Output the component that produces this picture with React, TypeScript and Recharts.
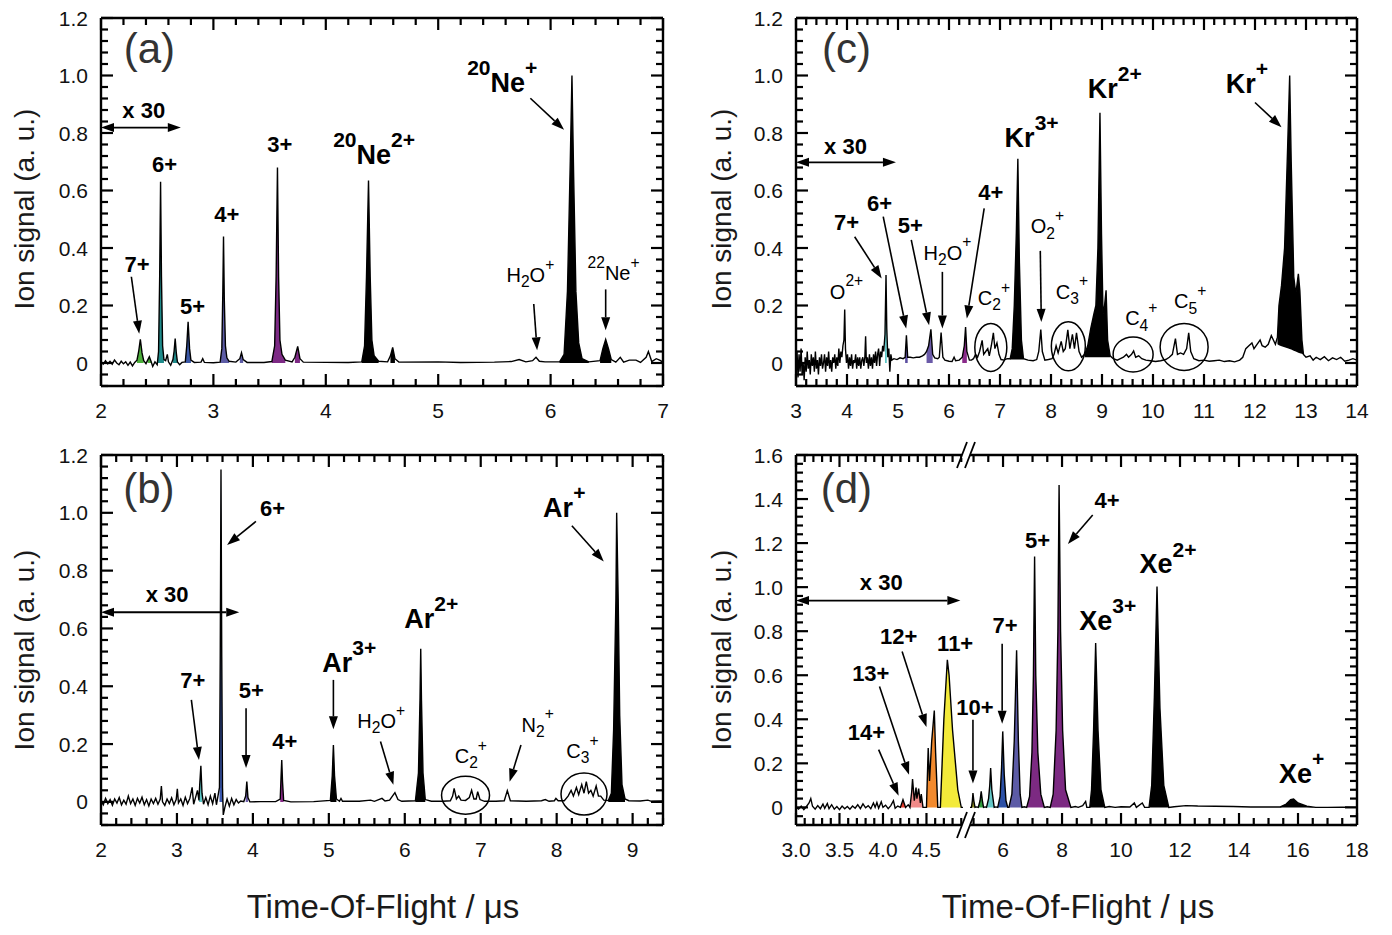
import React from 'react';
import { ComposedChart, Line, Area, XAxis, YAxis, ReferenceDot, ReferenceLine } from 'recharts';

const FONT = "'Liberation Sans', Arial, Helvetica, sans-serif";

// ---------- tick lists ----------
const rng = (a: number, b: number, s: number) => {
  const out: number[] = [];
  for (let v = a; v <= b + 1e-9; v += s) out.push(Math.round(v * 1000) / 1000);
  return out;
};
const aXMajor = [2, 3, 4, 5, 6, 7];
const aXTicks = rng(2, 7, 0.2);
const bXMajor = [2, 3, 4, 5, 6, 7, 8, 9];
const bXTicks = rng(2, 9.4, 0.2);
const cXMajor = [3, 4, 5, 6, 7, 8, 9, 10, 11, 12, 13, 14];
const cXTicks = rng(3, 14, 0.2);
const dLXMajor = [3.0, 3.5, 4.0, 4.5];
const dLXTicks = rng(3.0, 4.9, 0.1);
const dRXMajor = [6, 8, 10, 12, 14, 16, 18];
const dRXTicks = rng(5, 18, 0.5);
const yMajor12 = [0, 0.2, 0.4, 0.6, 0.8, 1.0, 1.2];
const yTicks12 = rng(-0.08, 1.2, 0.04);
const yMajor16 = [0, 0.2, 0.4, 0.6, 0.8, 1.0, 1.2, 1.4, 1.6];
const yTicks16 = rng(-0.08, 1.6, 0.04);

// ---------- spectra: [tof, signal, (optional lower fill edge)] ----------
const aTrace: number[][] = [
  [2.0,0.005],[2.02,-0.004],[2.04,0.008],[2.06,-0.003],[2.08,0.006],[2.1,-0.004],[2.12,0.01],[2.14,0.0],[2.16,-0.006],[2.18,0.006],[2.2,-0.003],[2.22,0.004],[2.24,-0.008],[2.26,0.003],[2.28,-0.01],[2.3,0.002],[2.32,0.01],[2.335,0.04],[2.35,0.082],[2.365,0.035],[2.38,0.008],[2.4,-0.002],[2.415,0.01],[2.43,0.022],[2.445,0.006],[2.46,-0.012],[2.48,0.004],[2.5,-0.006],[2.512,0.04],[2.522,0.3],[2.53,0.63],[2.538,0.3],[2.548,0.06],[2.56,0.012],[2.575,0.008],[2.59,0.03],[2.6,0.004],[2.62,-0.008],[2.64,0.012],[2.65,0.04],[2.66,0.085],[2.67,0.035],[2.68,0.004],[2.7,-0.006],[2.72,0.002],[2.75,0.004],[2.763,0.06],[2.775,0.143],[2.788,0.05],[2.8,0.01],[2.83,0.002],[2.89,0.003],[2.905,0.015],[2.92,0.002],[3.0,0.001],[3.06,0.003],[3.075,0.05],[3.084,0.25],[3.09,0.44],[3.097,0.22],[3.107,0.06],[3.12,0.018],[3.14,0.006],[3.2,0.003],[3.235,0.015],[3.25,0.036],[3.265,0.012],[3.3,0.002],[3.45,0.002],[3.52,0.005],[3.545,0.06],[3.558,0.3],[3.57,0.68],[3.58,0.3],[3.592,0.08],[3.61,0.03],[3.64,0.01],[3.7,0.004],[3.725,0.02],[3.75,0.058],[3.77,0.015],[3.8,0.003],[4.0,0.002],[4.2,0.002],[4.32,0.004],[4.345,0.06],[4.362,0.3],[4.38,0.635],[4.395,0.3],[4.41,0.08],[4.43,0.025],[4.47,0.006],[4.55,0.004],[4.575,0.025],[4.595,0.054],[4.615,0.015],[4.65,0.003],[5.0,0.004],[5.2,0.002],[5.5,0.003],[5.65,0.005],[5.72,0.012],[5.78,0.004],[5.84,0.008],[5.87,0.02],[5.9,0.006],[5.95,0.004],[6.08,0.004],[6.12,0.03],[6.15,0.25],[6.175,0.7],[6.19,1.0],[6.205,0.65],[6.225,0.25],[6.25,0.07],[6.28,0.015],[6.34,0.004],[6.44,0.008],[6.465,0.05],[6.49,0.082],[6.515,0.05],[6.54,0.012],[6.58,0.003],[6.62,0.02],[6.65,0.003],[6.7,0.01],[6.76,0.01],[6.8,0.002],[6.85,0.02],[6.87,0.04],[6.9,0.005],[6.94,0.015],[6.97,0.01],[7.0,0.003],
];
const aFills: any[] = [
  [2.32,2.38,'#4cae3c'],[2.415,2.445,'#4cae3c'],[2.5,2.56,'#1f8b8b'],[2.64,2.68,'#1f8b8b'],[2.75,2.8,'#3b58a6'],
  [3.06,3.14,'#5d5ca6'],[3.23,3.27,'#5d5ca6'],[3.52,3.64,'#7d2a85'],[3.725,3.77,'#7d2a85'],
  [4.32,4.47,'#000'],[4.575,4.615,'#000'],[6.08,6.34,'#000'],[6.44,6.54,'#000'],
];

const bTrace: number[][] = [
  [2.0,0.004],[2.03,-0.01],[2.06,0.012],[2.09,-0.006],[2.12,0.008],[2.15,-0.012],[2.18,0.01],[2.21,-0.004],[2.24,0.015],[2.27,-0.01],[2.3,0.006],[2.33,-0.008],[2.36,0.02],[2.39,-0.006],[2.42,0.01],[2.45,-0.012],[2.48,0.012],[2.51,-0.004],[2.54,0.016],[2.57,-0.01],[2.6,0.008],[2.63,-0.014],[2.66,0.01],[2.69,-0.006],[2.72,0.012],[2.75,-0.008],[2.78,0.01],[2.795,0.055],[2.81,0.0],[2.84,-0.012],[2.87,0.01],[2.9,-0.006],[2.93,0.014],[2.96,-0.01],[2.99,0.008],[3.005,0.045],[3.02,-0.004],[3.05,0.01],[3.08,-0.012],[3.11,0.016],[3.14,-0.006],[3.17,0.012],[3.2,0.05],[3.22,-0.008],[3.25,0.02],[3.27,0.04],[3.29,0.005],[3.3,0.06],[3.315,0.125],[3.33,0.03],[3.35,-0.008],[3.38,0.015],[3.41,-0.01],[3.44,0.02],[3.47,-0.006],[3.5,0.03],[3.52,-0.01],[3.54,0.02],[3.56,0.05],[3.57,0.5],[3.58,1.15],[3.59,0.5],[3.6,0.05],[3.61,-0.045],[3.63,-0.02],[3.66,0.01],[3.69,-0.015],[3.72,0.012],[3.75,-0.01],[3.78,0.008],[3.81,-0.004],[3.84,0.003],[3.88,0.001],[3.905,0.02],[3.92,0.07],[3.935,0.015],[3.96,0.0],[4.1,0.001],[4.3,0.001],[4.36,0.01],[4.37,0.08],[4.38,0.145],[4.39,0.07],[4.405,0.005],[4.5,0.0],[4.8,0.001],[5.02,0.005],[5.045,0.09],[5.06,0.197],[5.075,0.09],[5.1,0.01],[5.14,0.002],[5.16,0.012],[5.18,0.002],[5.4,0.002],[5.55,0.006],[5.6,0.002],[5.7,0.012],[5.74,0.003],[5.8,0.006],[5.87,0.032],[5.91,0.008],[5.96,0.002],[6.14,0.004],[6.18,0.1],[6.2,0.35],[6.21,0.53],[6.22,0.35],[6.24,0.1],[6.27,0.008],[6.35,0.002],[6.5,0.002],[6.6,0.004],[6.63,0.02],[6.65,0.047],[6.68,0.01],[6.71,0.02],[6.74,0.006],[6.8,0.005],[6.85,0.015],[6.88,0.04],[6.91,0.01],[6.94,0.01],[6.96,0.035],[6.99,0.008],[7.05,0.002],[7.2,0.002],[7.31,0.004],[7.35,0.039],[7.39,0.004],[7.6,0.002],[7.8,0.004],[7.85,0.008],[7.9,0.002],[7.97,0.004],[7.99,0.012],[8.02,0.004],[8.1,0.004],[8.15,0.02],[8.19,0.04],[8.22,0.02],[8.26,0.05],[8.29,0.025],[8.33,0.06],[8.36,0.03],[8.39,0.07],[8.42,0.03],[8.45,0.04],[8.48,0.02],[8.52,0.055],[8.55,0.02],[8.58,0.02],[8.62,0.006],[8.68,0.005],[8.72,0.03],[8.75,0.25],[8.78,0.7],[8.79,1.0],[8.81,0.7],[8.83,0.3],[8.86,0.06],[8.9,0.01],[8.95,0.004],[9.1,0.003],[9.2,0.006],[9.25,0.002],[9.4,0.003],
];
const bFills: any[] = [
  [3.29,3.33,'#5cc6c6'],[3.56,3.61,'#3a58b0'],[3.905,3.935,'#6a5aa8'],[4.36,4.405,'#8a2a8a'],
  [5.02,5.1,'#000'],[6.14,6.27,'#000'],[8.68,8.9,'#000'],
];

const cTrace: number[][] = [
  [3.0,-0.02],[3.02,0.04],[3.04,-0.05],[3.06,0.03],[3.08,-0.03],[3.1,0.05],[3.12,-0.04],[3.14,0.0],[3.16,-0.06],[3.18,0.02],[3.2,-0.03],[3.22,0.04],[3.24,-0.02],[3.26,0.01],[3.28,-0.04],[3.3,0.03],[3.32,-0.01],[3.34,0.02],[3.36,-0.03],[3.38,0.04],[3.4,-0.02],[3.42,0.01],[3.44,-0.04],[3.46,0.02],[3.48,-0.01],[3.5,0.03],[3.52,-0.02],[3.54,0.0],[3.56,0.03],[3.58,-0.03],[3.6,0.02],[3.62,-0.01],[3.64,0.04],[3.66,-0.02],[3.68,0.01],[3.7,-0.03],[3.72,0.02],[3.74,0.0],[3.76,0.03],[3.78,-0.02],[3.8,0.02],[3.82,-0.01],[3.84,0.05],[3.86,0.0],[3.88,0.04],[3.9,0.02],[3.92,0.06],[3.94,0.08],[3.955,0.186],[3.97,0.05],[3.99,0.0],[4.01,0.03],[4.03,-0.02],[4.05,0.02],[4.07,-0.01],[4.09,0.03],[4.11,-0.02],[4.13,0.01],[4.15,0.0],[4.17,0.03],[4.19,-0.02],[4.21,0.02],[4.23,-0.01],[4.25,0.02],[4.27,-0.02],[4.29,0.01],[4.31,0.02],[4.33,-0.01],[4.35,0.02],[4.365,0.093],[4.38,0.0],[4.4,0.02],[4.42,-0.02],[4.44,0.03],[4.46,-0.01],[4.48,0.02],[4.5,-0.02],[4.52,0.03],[4.54,0.0],[4.56,0.04],[4.58,-0.01],[4.6,0.03],[4.62,0.05],[4.64,-0.01],[4.66,0.04],[4.68,0.02],[4.7,0.06],[4.72,0.04],[4.745,0.1],[4.765,0.306],[4.78,0.12],[4.8,0.02],[4.82,0.05],[4.84,-0.03],[4.86,0.03],[4.88,0.01],[4.92,0.015],[4.98,0.012],[5.04,0.018],[5.1,0.015],[5.14,0.02],[5.165,0.096],[5.19,0.02],[5.24,0.02],[5.3,0.018],[5.36,0.02],[5.42,0.02],[5.48,0.025],[5.52,0.03],[5.56,0.04],[5.6,0.06],[5.645,0.117],[5.68,0.03],[5.72,0.018],[5.78,0.015],[5.81,0.02],[5.845,0.106],[5.88,0.02],[5.92,0.01],[6.0,0.006],[6.06,0.005],[6.1,0.02],[6.13,0.008],[6.2,0.01],[6.26,0.02],[6.3,0.06],[6.325,0.125],[6.35,0.04],[6.4,0.01],[6.44,0.01],[6.48,0.015],[6.52,0.03],[6.56,0.02],[6.6,0.04],[6.65,0.079],[6.68,0.03],[6.72,0.04],[6.76,0.05],[6.79,0.025],[6.83,0.06],[6.87,0.105],[6.9,0.05],[6.94,0.07],[6.98,0.03],[7.02,0.012],[7.08,0.01],[7.14,0.015],[7.2,0.015],[7.24,0.05],[7.28,0.2],[7.32,0.45],[7.35,0.71],[7.38,0.35],[7.42,0.08],[7.46,0.015],[7.55,0.01],[7.65,0.008],[7.72,0.012],[7.76,0.04],[7.8,0.116],[7.83,0.04],[7.88,0.01],[7.95,0.012],[8.02,0.015],[8.06,0.03],[8.1,0.06],[8.14,0.035],[8.2,0.075],[8.24,0.04],[8.28,0.05],[8.33,0.115],[8.37,0.05],[8.42,0.1],[8.46,0.05],[8.5,0.105],[8.55,0.04],[8.6,0.02],[8.66,0.03],[8.72,0.06],[8.78,0.12],[8.84,0.17],[8.88,0.2],[8.92,0.4],[8.96,0.87],[8.99,0.45],[9.02,0.17],[9.05,0.2],[9.08,0.253],[9.11,0.08],[9.16,0.025],[9.22,0.015],[9.3,0.01],[9.36,0.015],[9.42,0.02],[9.48,0.03],[9.52,0.02],[9.58,0.03],[9.62,0.042],[9.66,0.02],[9.72,0.025],[9.78,0.015],[9.86,0.01],[9.95,0.008],[10.05,0.005],[10.15,0.008],[10.25,0.012],[10.32,0.02],[10.38,0.03],[10.44,0.085],[10.48,0.03],[10.54,0.035],[10.6,0.03],[10.66,0.05],[10.7,0.105],[10.74,0.04],[10.8,0.015],[10.9,0.008],[11.0,0.01],[11.1,0.006],[11.2,0.008],[11.3,0.01],[11.4,0.005],[11.5,0.008],[11.6,0.004],[11.7,0.01],[11.76,0.02],[11.82,0.05],[11.88,0.06],[11.94,0.07],[11.98,0.05],[12.04,0.065],[12.1,0.08],[12.14,0.06],[12.2,0.055],[12.26,0.065],[12.32,0.095],[12.36,0.08],[12.4,0.065],[12.44,0.09,0.065],[12.47,0.2,0.062],[12.52,0.27,0.058],[12.58,0.4,0.055],[12.64,0.75,0.051],[12.68,1.0,0.049],[12.71,0.7,0.047],[12.76,0.3,0.043],[12.8,0.24,0.04],[12.85,0.31,0.036],[12.88,0.25,0.034],[12.92,0.08,0.032],[12.95,0.03,0.03],[13.0,0.02],[13.08,0.025],[13.14,0.01],[13.2,0.02],[13.28,0.012],[13.36,0.022],[13.44,0.008],[13.52,0.018],[13.6,0.012],[13.68,0.02],[13.76,0.006],[13.84,0.01],[13.92,0.015],[14.0,0.01],
];
const cFills: any[] = [
  [4.745,4.78,'#5ec8c8'],[5.14,5.19,'#5b4ea0'],[5.56,5.68,'#6a5aa8'],[6.26,6.35,'#8a2a8a'],
  [7.2,7.46,'#000',0.012],[8.66,9.16,'#000',0.02],[12.44,12.95,'#000'],
];

const dLTrace: number[][] = [
  [3.0,0.0],[3.03,-0.008],[3.06,0.006],[3.09,-0.01],[3.12,0.004],[3.15,0.02],[3.17,0.04],[3.19,0.005],[3.22,-0.008],[3.25,0.008],[3.28,-0.006],[3.31,0.015],[3.33,-0.004],[3.36,0.018],[3.38,-0.006],[3.41,0.012],[3.44,-0.008],[3.47,0.004],[3.5,-0.01],[3.53,0.006],[3.56,-0.006],[3.59,0.004],[3.62,-0.008],[3.65,0.006],[3.68,-0.004],[3.71,0.012],[3.74,-0.006],[3.77,0.016],[3.8,-0.002],[3.83,0.008],[3.86,-0.006],[3.89,0.02],[3.91,0.0],[3.93,0.022],[3.95,-0.004],[3.98,0.025],[4.0,0.0],[4.03,0.01],[4.06,-0.006],[4.09,0.008],[4.12,0.03],[4.14,-0.004],[4.17,0.006],[4.2,0.0],[4.23,0.035],[4.26,0.0],[4.29,0.012],[4.31,0.0],[4.33,0.07],[4.34,0.129],[4.36,0.03],[4.38,0.09],[4.39,0.04],[4.41,0.085],[4.43,0.02],[4.44,0.06],[4.46,0.0],[4.5,0.0],[4.52,0.27],[4.535,0.12],[4.56,0.3],[4.59,0.44],[4.605,0.25],[4.63,0.0],[4.66,0.0],[4.7,0.4],[4.74,0.67],[4.76,0.6],[4.8,0.35],[4.86,0.08],[4.9,0.0],[4.92,0.0],
];
const dLFills: any[] = [
  [4.2,4.26,'#e53a2a'],[4.31,4.46,'#f08a88'],[4.5,4.63,'#f28a2e'],[4.66,4.9,'#f3ea3a'],
];
const dRTrace: number[][] = [
  [4.88,0.0],[4.93,0.0],[4.96,0.03],[4.98,0.065],[5.01,0.03],[5.05,0.0],[5.1,0.002],[5.16,0.0],[5.22,0.03],[5.26,0.073],[5.3,0.03],[5.34,0.0],[5.4,0.002],[5.44,0.0],[5.51,0.04],[5.55,0.1],[5.58,0.179],[5.62,0.08],[5.7,0.0],[5.76,0.002],[5.82,0.0],[5.9,0.05],[5.95,0.18],[5.99,0.345],[6.04,0.15],[6.1,0.03],[6.16,0.0],[6.2,0.0],[6.3,0.06],[6.38,0.3],[6.46,0.713],[6.52,0.3],[6.58,0.06],[6.64,0.0],[6.72,0.003],[6.8,0.0],[6.9,0.05],[6.98,0.25],[7.03,0.6],[7.07,1.139],[7.11,0.6],[7.18,0.25],[7.28,0.06],[7.4,0.0],[7.5,0.003],[7.6,0.0],[7.7,0.06],[7.8,0.35],[7.86,0.8],[7.9,1.464],[7.95,0.8],[8.02,0.35],[8.12,0.08],[8.3,0.0],[8.45,0.004],[8.55,0.0],[8.7,0.008],[8.8,0.027],[8.84,0.0],[8.94,0.0],[9.0,0.08],[9.07,0.35],[9.14,0.746],[9.22,0.35],[9.32,0.08],[9.45,0.0],[9.6,0.004],[9.8,0.0],[10.0,0.003],[10.3,0.002],[10.45,0.02],[10.52,0.0],[10.72,0.02],[10.8,0.0],[10.95,0.0],[11.04,0.1],[11.13,0.5],[11.22,1.003],[11.32,0.45],[11.45,0.1],[11.62,0.0],[11.8,0.003],[12.2,0.008],[12.6,0.006],[13.2,0.005],[13.8,0.004],[14.4,0.002],[15.0,0.002],[15.4,0.002],[15.6,0.015],[15.75,0.035],[15.85,0.038],[16.0,0.02],[16.3,0.005],[16.6,0.0],[17.0,0.0],[17.5,0.001],[18.0,0.0],
];
const dRFills: any[] = [
  [4.93,5.05,'#8c8c22'],[5.16,5.34,'#2e9b3b'],[5.44,5.7,'#63c7c7'],[5.82,6.16,'#2b50a6'],[6.2,6.64,'#5c5ba6'],
  [6.8,7.4,'#7c2a82'],[7.6,8.3,'#7c2a82'],[8.94,9.45,'#000'],[10.95,11.62,'#000'],[15.4,16.6,'#000'],
];

// ---------- annotations: [x, y, text, style] ----------
const aLabels: any[] = [
  [2.43,1.045,'(a)','p'],[2.38,0.851,'x 30','b'],[2.32,0.317,'7+','b'],[2.566,0.666,'6+','b'],[2.814,0.17,'5+','b'],
  [3.12,0.491,'4+','b'],[3.59,0.735,'3+','b'],[4.43,0.692,'^{20}Ne^{2+}','B'],[5.57,0.944,'^{20}Ne^{+}','B'],
  [5.82,0.282,'H_{2}O^{+}','r'],[6.56,0.288,'^{22}Ne^{+}','r'],
];
const aArrows = [[2.27,0.30,2.34,0.102],[5.82,0.921,6.12,0.811],[5.85,0.205,5.88,0.044],[6.49,0.256,6.49,0.114]];
const aDoubles = [[2.0,2.71,0.819]];
const aCircles: number[][] = [];

const bLabels: any[] = [
  [2.63,1.035,'(b)','p'],[2.87,0.693,'x 30','b'],[3.21,0.393,'7+','b'],[4.26,0.99,'6+','b'],[3.98,0.359,'5+','b'],
  [4.42,0.182,'4+','b'],[5.27,0.451,'Ar^{3+}','B'],[5.69,0.255,'H_{2}O^{+}','r'],[6.35,0.601,'Ar^{2+}','B'],
  [6.87,0.134,'C_{2}^{+}','r'],[7.75,0.243,'N_{2}^{+}','r'],[8.34,0.151,'C_{3}^{+}','r'],[8.1,0.985,'Ar^{+}','B'],
];
const bArrows = [[3.19,0.353,3.29,0.145],[4.04,0.97,3.66,0.889],[3.91,0.324,3.91,0.117],[5.06,0.422,5.06,0.251],[5.68,0.209,5.85,0.059],[7.53,0.197,7.38,0.07],[8.2,0.955,8.62,0.832]];
const bDoubles = [[2.0,3.82,0.656]];
const bCircles = [[6.8,0.023,24,19],[8.36,0.027,23,21]];

const cLabels: any[] = [
  [3.99,1.045,'(c)','p'],[3.97,0.727,'x 30','b'],[3.99,0.224,'O^{2+}','r'],[3.99,0.462,'7+','b'],[4.64,0.53,'6+','b'],
  [5.24,0.451,'5+','b'],[5.97,0.36,'H_{2}O^{+}','r'],[6.82,0.567,'4+','b'],[6.88,0.201,'C_{2}^{+}','r'],
  [7.62,0.753,'Kr^{3+}','B'],[7.93,0.451,'O_{2}^{+}','r'],[8.41,0.224,'C_{3}^{+}','r'],[9.25,0.921,'Kr^{2+}','B'],
  [9.77,0.131,'C_{4}^{+}','r'],[10.73,0.19,'C_{5}^{+}','r'],[11.84,0.939,'Kr^{+}','B'],
];
const cArrows = [[4.15,0.439,4.68,0.294],[4.71,0.509,5.16,0.12],[5.26,0.428,5.61,0.131],[5.87,0.317,5.87,0.12],[6.69,0.538,6.35,0.155],[7.79,0.39,7.81,0.143],[12.0,0.906,12.52,0.82]];
const cDoubles = [[3.0,4.96,0.698]];
const cCircles = [[6.82,0.054,16,24],[8.34,0.058,17,24.5],[9.61,0.03,20,17.5],[10.61,0.056,24,23.5]];

const dLLabels: any[] = [
  [3.58,1.383,'(d)','p'],[3.98,0.988,'x 30','b'],[3.81,0.307,'14+','b'],[3.86,0.572,'13+','b'],[4.18,0.743,'12+','b'],[4.83,0.712,'11+','b'],
];
const dLArrows = [[3.95,0.262,4.18,0.053],[3.96,0.549,4.3,0.148],[4.22,0.708,4.5,0.365]];
const dLDoubles = [[3.0,4.89,0.939]];
const dRLabels: any[] = [
  [5.05,0.42,'10+','b'],[6.07,0.791,'7+','b'],[7.17,1.177,'5+','b'],[9.53,1.358,'4+','b'],
  [9.55,0.806,'Xe^{3+}','B'],[11.59,1.063,'Xe^{2+}','B'],[16.12,0.111,'Xe^{+}','B'],
];
const dRArrows = [[4.98,0.398,4.98,0.108],[5.97,0.743,5.97,0.38],[9.04,1.328,8.2,1.196]];
const dRBreaks = [[4.88,-0.08],[4.88,1.6]];

// ---------- rendering helpers ----------
const STY: any = {
  p: { size: 42, weight: 400, fill: '#333' },
  b: { size: 22, weight: 700, fill: '#000' },
  B: { size: 27, weight: 700, fill: '#000' },
  r: { size: 20, weight: 400, fill: '#000' },
};

function parseMarkup(s: string) {
  const out: { t: string; k: string }[] = [];
  let i = 0;
  const isMark = (j: number) => (s[j] === '^' || s[j] === '_') && s[j + 1] === '{';
  while (i < s.length) {
    if (isMark(i)) {
      const j = s.indexOf('}', i);
      out.push({ t: s.slice(i + 2, j), k: s[i] === '^' ? 'sup' : 'sub' });
      i = j + 1;
    } else {
      let j = i;
      while (j < s.length && !isMark(j)) j++;
      out.push({ t: s.slice(i, j), k: 'n' });
      i = j;
    }
  }
  return out;
}

function RichText({ x, y, markup, st }: any) {
  const S = STY[st];
  const parts = parseMarkup(markup);
  let cur = 0;
  return (
    <text x={x} y={y} textAnchor="middle" fontFamily={FONT} fontSize={S.size} fontWeight={S.weight} fill={S.fill}>
      {parts.map((p, i) => {
        const target = p.k === 'sup' ? -0.62 * S.size : p.k === 'sub' ? 0.26 * S.size : 0;
        const dy = target - cur;
        cur = target;
        return (
          <tspan key={i} dy={dy} fontSize={p.k === 'n' ? S.size : S.size * 0.78}>{p.t}</tspan>
        );
      })}
    </text>
  );
}

function arrowHead(xt: number, yt: number, xf: number, yf: number) {
  const dx = xt - xf, dy = yt - yf;
  const L = Math.hypot(dx, dy) || 1;
  const ux = dx / L, uy = dy / L;
  const head = 13, hw = 4.5;
  const bx = xt - ux * head, by = yt - uy * head;
  return { bx, by, pts: `${xt},${yt} ${bx - uy * hw},${by + ux * hw} ${bx + uy * hw},${by - ux * hw}` };
}

function ArrowShape(p: any) {
  const { x1, y1, x2, y2 } = p;
  const h = arrowHead(x2, y2, x1, y1);
  return (
    <g>
      <line x1={x1} y1={y1} x2={h.bx} y2={h.by} stroke="#000" strokeWidth={1.6} />
      <polygon points={h.pts} fill="#000" />
    </g>
  );
}

function DoubleArrowShape(p: any) {
  const { x1, y1, x2, y2 } = p;
  const h2 = arrowHead(x2, y2, x1, y1);
  const h1 = arrowHead(x1, y1, x2, y2);
  return (
    <g>
      <line x1={h1.bx} y1={h1.by} x2={h2.bx} y2={h2.by} stroke="#000" strokeWidth={1.8} />
      <polygon points={h1.pts} fill="#000" />
      <polygon points={h2.pts} fill="#000" />
    </g>
  );
}

const TICK_W = 2.2;
// Inward tick marks at both ends of a full-height (x) or full-width (y) reference line.
function EdgeTicks(p: any) {
  const { x1, y1, x2, y2, len, first, second, horizontal } = p;
  const dx = x2 - x1, dy = y2 - y1;
  const L = Math.hypot(dx, dy) || 1;
  const ux = dx / L, uy = dy / L;
  let drawA = first, drawB = second;
  if (horizontal && x1 > x2) { drawA = second; drawB = first; }
  return (
    <g>
      {drawA && <line x1={x1} y1={y1} x2={x1 + ux * len} y2={y1 + uy * len} stroke="#000" strokeWidth={TICK_W} />}
      {drawB && <line x1={x2} y1={y2} x2={x2 - ux * len} y2={y2 - uy * len} stroke="#000" strokeWidth={TICK_W} />}
    </g>
  );
}

const isMajor = (v: number, majors: number[]) => majors.some((m) => Math.abs(m - v) < 1e-6);
const yFmt = (v: number) => (v === 0 ? '0' : v.toFixed(1));

const labelBottom = (fmt: (v: number) => string) => (p: any) => (
  <text x={p.x} y={p.y + 32} textAnchor="middle" fontFamily={FONT} fontSize={21} fill="#111">{fmt(p.payload.value)}</text>
);
const labelLeft = (p: any) => (
  <text x={p.x - 13} y={p.y + 7.5} textAnchor="end" fontFamily={FONT} fontSize={21} fill="#111">{yFmt(p.payload.value)}</text>
);

const AXL = { stroke: '#000', strokeWidth: 2.4 };
const MAJ = 12;
const MIN = 7;

function Panel(props: any) {
  const {
    left, top, width, height, margin, xDomain, yDomain, xTicks, xMajor, xFmt, yTicks, yMajor,
    hasLeft, hasRight, trace, fills, labels, arrows, doubles, circles, breaks,
  } = props;
  const yid = hasLeft ? 'yl' : 'yr';
  const traceData = trace.map((t: number[]) => ({ x: t[0], y: t[1] }));
  const m = {
    top: margin.top - 1,
    bottom: margin.bottom - 1,
    left: margin.left - (hasLeft ? 1 : 0),
    right: margin.right - (hasRight ? 1 : 0),
  };
  const xCommon = { type: 'number' as const, dataKey: 'x', domain: xDomain, allowDataOverflow: true, interval: 0 as const, height: 1, tickLine: false, tickSize: 0, tickMargin: 0, axisLine: AXL };
  const yCommon = { type: 'number' as const, domain: yDomain, allowDataOverflow: true, interval: 0 as const, width: 1, tickLine: false, tickSize: 0, tickMargin: 0, axisLine: AXL };
  return (
    <div style={{ position: 'absolute', left, top, width, height }}>
      <ComposedChart width={width} height={height} margin={m}>
        <XAxis xAxisId="xb" orientation="bottom" {...xCommon} ticks={xMajor} tick={labelBottom(xFmt)} />
        <XAxis xAxisId="xt" orientation="top" {...xCommon} ticks={xMajor} tick={false} />
        {hasLeft && <YAxis yAxisId="yl" orientation="left" {...yCommon} ticks={yMajor} tick={labelLeft} />}
        {hasRight && <YAxis yAxisId="yr" orientation="right" {...yCommon} ticks={yMajor} tick={false} />}
        {fills.map((f: any, i: number) => {
          const base = f[3] ?? 0;
          const data = trace
            .filter((t: number[]) => t[0] >= f[0] - 1e-9 && t[0] <= f[1] + 1e-9)
            .map((t: number[]) => ({ x: t[0], y: t[1], lo: t[2] ?? base }));
          return (
            <Area key={'f' + i} xAxisId="xb" yAxisId={yid} data={data} type="linear"
              dataKey={(d: any) => [d.lo, d.y]} stroke="none" fill={f[2]} fillOpacity={1}
              isAnimationActive={false} dot={false} activeDot={false} />
          );
        })}
        <Line xAxisId="xb" yAxisId={yid} data={traceData} dataKey="y" type="linear" stroke="#000" strokeWidth={1.4}
          dot={false} activeDot={false} isAnimationActive={false} />
        {xTicks.map((v: number, i: number) => {
          const len = isMajor(v, xMajor) ? MAJ : MIN;
          return (
            <ReferenceLine key={'tx' + i} xAxisId="xb" yAxisId={yid} x={v} ifOverflow="visible"
              shape={(p: any) => <EdgeTicks {...p} len={len} first second horizontal={false} />} />
          );
        })}
        {yTicks.map((v: number, i: number) => {
          const len = isMajor(v, yMajor) ? MAJ : MIN;
          return (
            <ReferenceLine key={'ty' + i} xAxisId="xb" yAxisId={yid} y={v} ifOverflow="visible"
              shape={(p: any) => <EdgeTicks {...p} len={len} first={hasLeft} second={hasRight} horizontal />} />
          );
        })}
        {circles.map((c: number[], i: number) => (
          <ReferenceDot key={'c' + i} xAxisId="xb" yAxisId={yid} x={c[0]} y={c[1]} ifOverflow="visible"
            shape={(p: any) => <ellipse cx={p.cx} cy={p.cy} rx={c[2]} ry={c[3]} fill="none" stroke="#000" strokeWidth={1.5} />} />
        ))}
        {arrows.map((a: number[], i: number) => (
          <ReferenceLine key={'a' + i} xAxisId="xb" yAxisId={yid} ifOverflow="visible"
            segment={[{ x: a[0], y: a[1] }, { x: a[2], y: a[3] }]} shape={ArrowShape} />
        ))}
        {doubles.map((a: number[], i: number) => (
          <ReferenceLine key={'d' + i} xAxisId="xb" yAxisId={yid} ifOverflow="visible"
            segment={[{ x: a[0], y: a[2] }, { x: a[1], y: a[2] }]} shape={DoubleArrowShape} />
        ))}
        {labels.map((l: any[], i: number) => (
          <ReferenceDot key={'l' + i} xAxisId="xb" yAxisId={yid} x={l[0]} y={l[1]} ifOverflow="visible"
            shape={(p: any) => <RichText x={p.cx} y={p.cy} markup={l[2]} st={l[3]} />} />
        ))}
        {(breaks || []).map((b: number[], i: number) => (
          <ReferenceDot key={'b' + i} xAxisId="xb" yAxisId={yid} x={b[0]} y={b[1]} ifOverflow="visible"
            shape={(p: any) => (
              <g>
                <rect x={p.cx - 8} y={p.cy - 3} width={7} height={6} fill="#fff" />
                <line x1={p.cx - 13} y1={p.cy + 13} x2={p.cx - 3} y2={p.cy - 13} stroke="#000" strokeWidth={1.8} />
                <line x1={p.cx - 5} y1={p.cy + 13} x2={p.cx + 5} y2={p.cy - 13} stroke="#000" strokeWidth={1.8} />
              </g>
            )} />
        ))}
      </ComposedChart>
    </div>
  );
}

export default function App() {
  const intFmt = (v: number) => String(v);
  const oneFmt = (v: number) => v.toFixed(1);
  return (
    <div style={{ position: 'absolute', left: 0, top: 0, width: 1392, height: 935, background: '#fff', overflow: 'hidden' }}>
      <Panel left={0} top={0} width={690} height={440} margin={{ top: 18, left: 101, right: 27, bottom: 54 }}
        xDomain={[2, 7]} yDomain={[-0.08, 1.2]} xTicks={aXTicks} xMajor={aXMajor} xFmt={intFmt} yTicks={yTicks12} yMajor={yMajor12}
        hasLeft hasRight trace={aTrace} fills={aFills} labels={aLabels} arrows={aArrows} doubles={aDoubles} circles={aCircles} />
      <Panel left={695} top={0} width={697} height={440} margin={{ top: 18, left: 101, right: 35, bottom: 54 }}
        xDomain={[3, 14]} yDomain={[-0.08, 1.2]} xTicks={cXTicks} xMajor={cXMajor} xFmt={intFmt} yTicks={yTicks12} yMajor={yMajor12}
        hasLeft hasRight trace={cTrace} fills={cFills} labels={cLabels} arrows={cArrows} doubles={cDoubles} circles={cCircles} />
      <Panel left={0} top={440} width={690} height={495} margin={{ top: 15, left: 101, right: 27, bottom: 110 }}
        xDomain={[2, 9.4]} yDomain={[-0.08, 1.2]} xTicks={bXTicks} xMajor={bXMajor} xFmt={intFmt} yTicks={yTicks12} yMajor={yMajor12}
        hasLeft hasRight trace={bTrace} fills={bFills} labels={bLabels} arrows={bArrows} doubles={bDoubles} circles={bCircles} />
      <Panel left={695} top={440} width={290} height={495} margin={{ top: 15, left: 101, right: 22, bottom: 110 }}
        xDomain={[3.0, 4.92]} yDomain={[-0.08, 1.6]} xTicks={dLXTicks} xMajor={dLXMajor} xFmt={oneFmt} yTicks={yTicks16} yMajor={yMajor16}
        hasLeft hasRight={false} trace={dLTrace} fills={dLFills} labels={dLLabels} arrows={dLArrows} doubles={dLDoubles} circles={[]} />
      <Panel left={940} top={440} width={452} height={495} margin={{ top: 15, left: 30, right: 35, bottom: 110 }}
        xDomain={[4.88, 18]} yDomain={[-0.08, 1.6]} xTicks={dRXTicks} xMajor={dRXMajor} xFmt={intFmt} yTicks={yTicks16} yMajor={yMajor16}
        hasLeft={false} hasRight trace={dRTrace} fills={dRFills} labels={dRLabels} arrows={dRArrows} doubles={[]} circles={[]} breaks={dRBreaks} />
      <svg width={1392} height={935} style={{ position: 'absolute', left: 0, top: 0, pointerEvents: 'none' }}>
        <g fontFamily={FONT} fill="#1a1a1a">
          <text transform="translate(24,209) rotate(-90)" textAnchor="middle" dominantBaseline="central" fontSize={28}>Ion signal (a. u.)</text>
          <text transform="translate(24,650) rotate(-90)" textAnchor="middle" dominantBaseline="central" fontSize={28}>Ion signal (a. u.)</text>
          <text transform="translate(721,209) rotate(-90)" textAnchor="middle" dominantBaseline="central" fontSize={28}>Ion signal (a. u.)</text>
          <text transform="translate(721,650) rotate(-90)" textAnchor="middle" dominantBaseline="central" fontSize={28}>Ion signal (a. u.)</text>
          <text x={383} y={918} textAnchor="middle" fontSize={33}>Time-Of-Flight / μs</text>
          <text x={1078} y={918} textAnchor="middle" fontSize={33}>Time-Of-Flight / μs</text>
        </g>
      </svg>
    </div>
  );
}
